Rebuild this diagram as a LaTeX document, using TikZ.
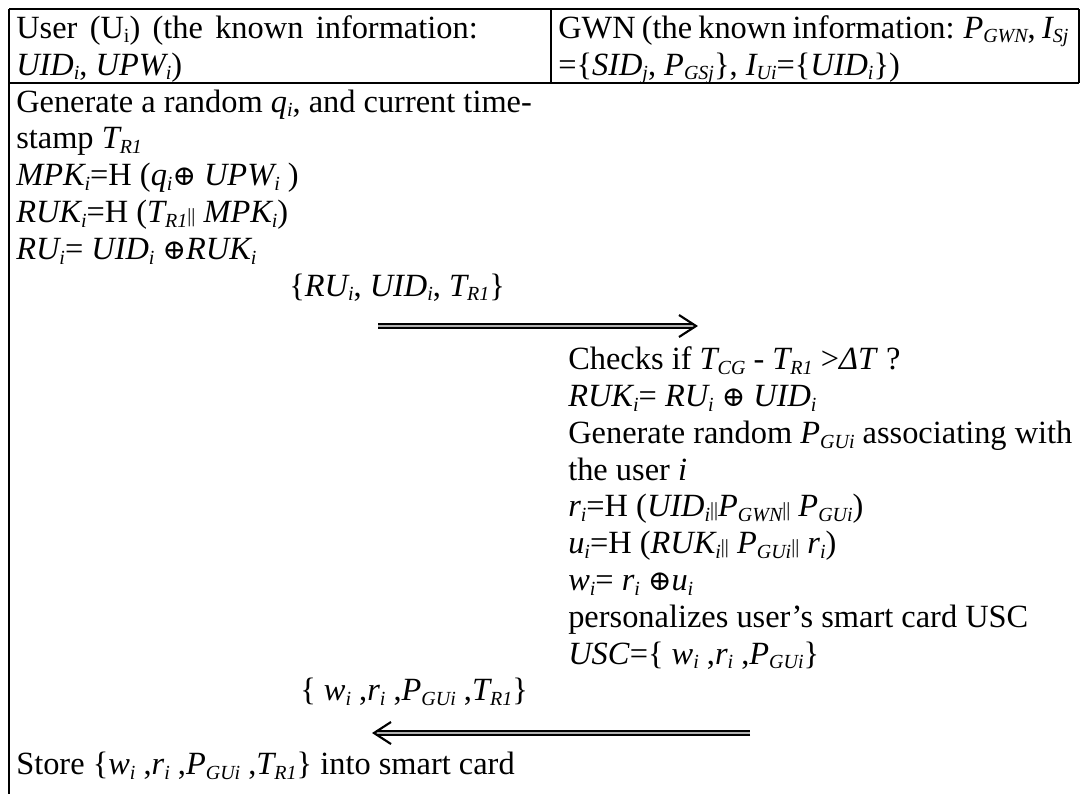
\documentclass[tikz,border=0pt]{standalone}
\usepackage{fontspec}
\setmainfont{Liberation Serif}
\newfontfamily\symfont{DejaVu Serif}
\usetikzlibrary{arrows.meta}
\newcommand\xorsym{{\symfont\upshape\fontsize{21pt}{21pt}\selectfont ⊕}}
\newcommand\bars{{\fontsize{15pt}{15pt}\selectfont\upshape||}}
\newcommand\iz[1]{\textit{#1}}
\newcommand\sbs[1]{\raisebox{-0.15em}{\fontsize{15pt}{15pt}\selectfont #1}}
\tikzset{
  txt/.style={anchor=base west, inner sep=0pt, font=\fontsize{24.3pt}{27.6pt}\selectfont},
  rule/.style={line width=1.6pt},
  shaft/.style={line width=1.2pt, double=gray!60, double distance=1.6pt},
  head/.style={line width=1.6pt, line join=miter}
}
\begin{document}
\begin{tikzpicture}[x=0.75pt,y=-0.75pt]
\useasboundingbox (0,0) rectangle (1092,794);
% table rules
\draw[rule] (9,9) -- (1079,9);
\draw[rule] (9,83) -- (1079,83);
\draw[rule] (1079,9) -- (1079,83);
\draw[rule] (551,9) -- (551,83);
\draw[rule] (9,9) -- (9,794);
% header
\node[txt] (h1) at (16,38) {\spaceskip=0.38em plus 0.1em User (U\sbs{i}) (the known information:};
\node[txt] (h2) at (16,75) {\iz{UID\sbs{i}}, \iz{UPW\sbs{i}})};
\node[txt] (g1) at (558,38) {\spaceskip=0.19em plus 0.1em GWN (the known information: \iz{P\sbs{GWN}}, \iz{I\sbs{Sj}}};
\node[txt] (g2) at (558,75) {=\{\iz{SID\sbs{j}}, \iz{P\sbs{GSj}}\}, \iz{I\sbs{Ui}}=\{\iz{UID\sbs{i}}\})};
% user side
\node[txt] (u1) at (16,112) {Generate a random \iz{q\sbs{i}}, and current time-};
\node[txt] (u2) at (16,148.8) {stamp \iz{T\sbs{R1}}};
\node[txt] (u3) at (16,185.6) {\iz{MPK\sbs{i}}=H (\iz{q\sbs{i}}\xorsym\ \iz{UPW\sbs{i}} )};
\node[txt] (u4) at (16,222.4) {\iz{RUK\sbs{i}}=H (\iz{T\sbs{R1}}\bars\ \iz{MPK\sbs{i}})};
\node[txt] (u5) at (16,259.2) {\iz{RU\sbs{i}}= \iz{UID\sbs{i}} \xorsym\iz{RUK\sbs{i}}};
\node[txt] (m1) at (289,296) {\{\iz{RU\sbs{i}}, \iz{UID\sbs{i}}, \iz{T\sbs{R1}}\}};
\coordinate (a1s) at (378,326);
\coordinate (a1e) at (696,326);
\draw[shaft] (a1s) -- ([xshift=-1.5pt]a1e);
\draw[head] (a1e) ++(-17,-11) -- (a1e) -- ++(-17,11);
% gateway side
\node[txt] (s1) at (568,369.6) {Checks if \iz{T\sbs{CG}} - \iz{T\sbs{R1}} >\iz{ΔT} ?};
\node[txt] (s2) at (568,406.4) {\iz{RUK\sbs{i}}= \iz{RU\sbs{i}} \xorsym\ \iz{UID\sbs{i}}};
\node[txt] (s3) at (568,443.2) {Generate random \iz{P\sbs{GUi}} associating with};
\node[txt] (s4) at (568,480) {the user \iz{i}};
\node[txt] (s5) at (568,516.8) {\iz{r\sbs{i}}=H (\iz{UID\sbs{i}}\bars\iz{P\sbs{GWN}}\bars\ \iz{P\sbs{GUi}})};
\node[txt] (s6) at (568,553.6) {\iz{u\sbs{i}}=H (\iz{RUK\sbs{i}}\bars\ \iz{P\sbs{GUi}}\bars\ \iz{r\sbs{i}})};
\node[txt] (s7) at (568,590.4) {\iz{w\sbs{i}}= \iz{r\sbs{i}} \xorsym\iz{u\sbs{i}}};
\node[txt] (s8) at (568,627.2) {personalizes user’s smart card USC};
\node[txt] (s9) at (568,664) {\iz{USC}=\{ \iz{w\sbs{i}} ,\iz{r\sbs{i}} ,\iz{P\sbs{GUi}}\}};
\node[txt] (m2) at (300,700.8) {\{ \iz{w\sbs{i}} ,\iz{r\sbs{i}} ,\iz{P\sbs{GUi}} ,\iz{T\sbs{R1}}\}};
\coordinate (a2s) at (750,733);
\coordinate (a2e) at (374,733);
\draw[shaft] (a2s) -- ([xshift=1.5pt]a2e);
\draw[head] (a2e) ++(17,-11) -- (a2e) -- ++(17,11);
% final step
\node[txt] (f1) at (16,774.4) {Store \{\iz{w\sbs{i}} ,\iz{r\sbs{i}} ,\iz{P\sbs{GUi}} ,\iz{T\sbs{R1}}\} into smart card};
\end{tikzpicture}
\end{document}
